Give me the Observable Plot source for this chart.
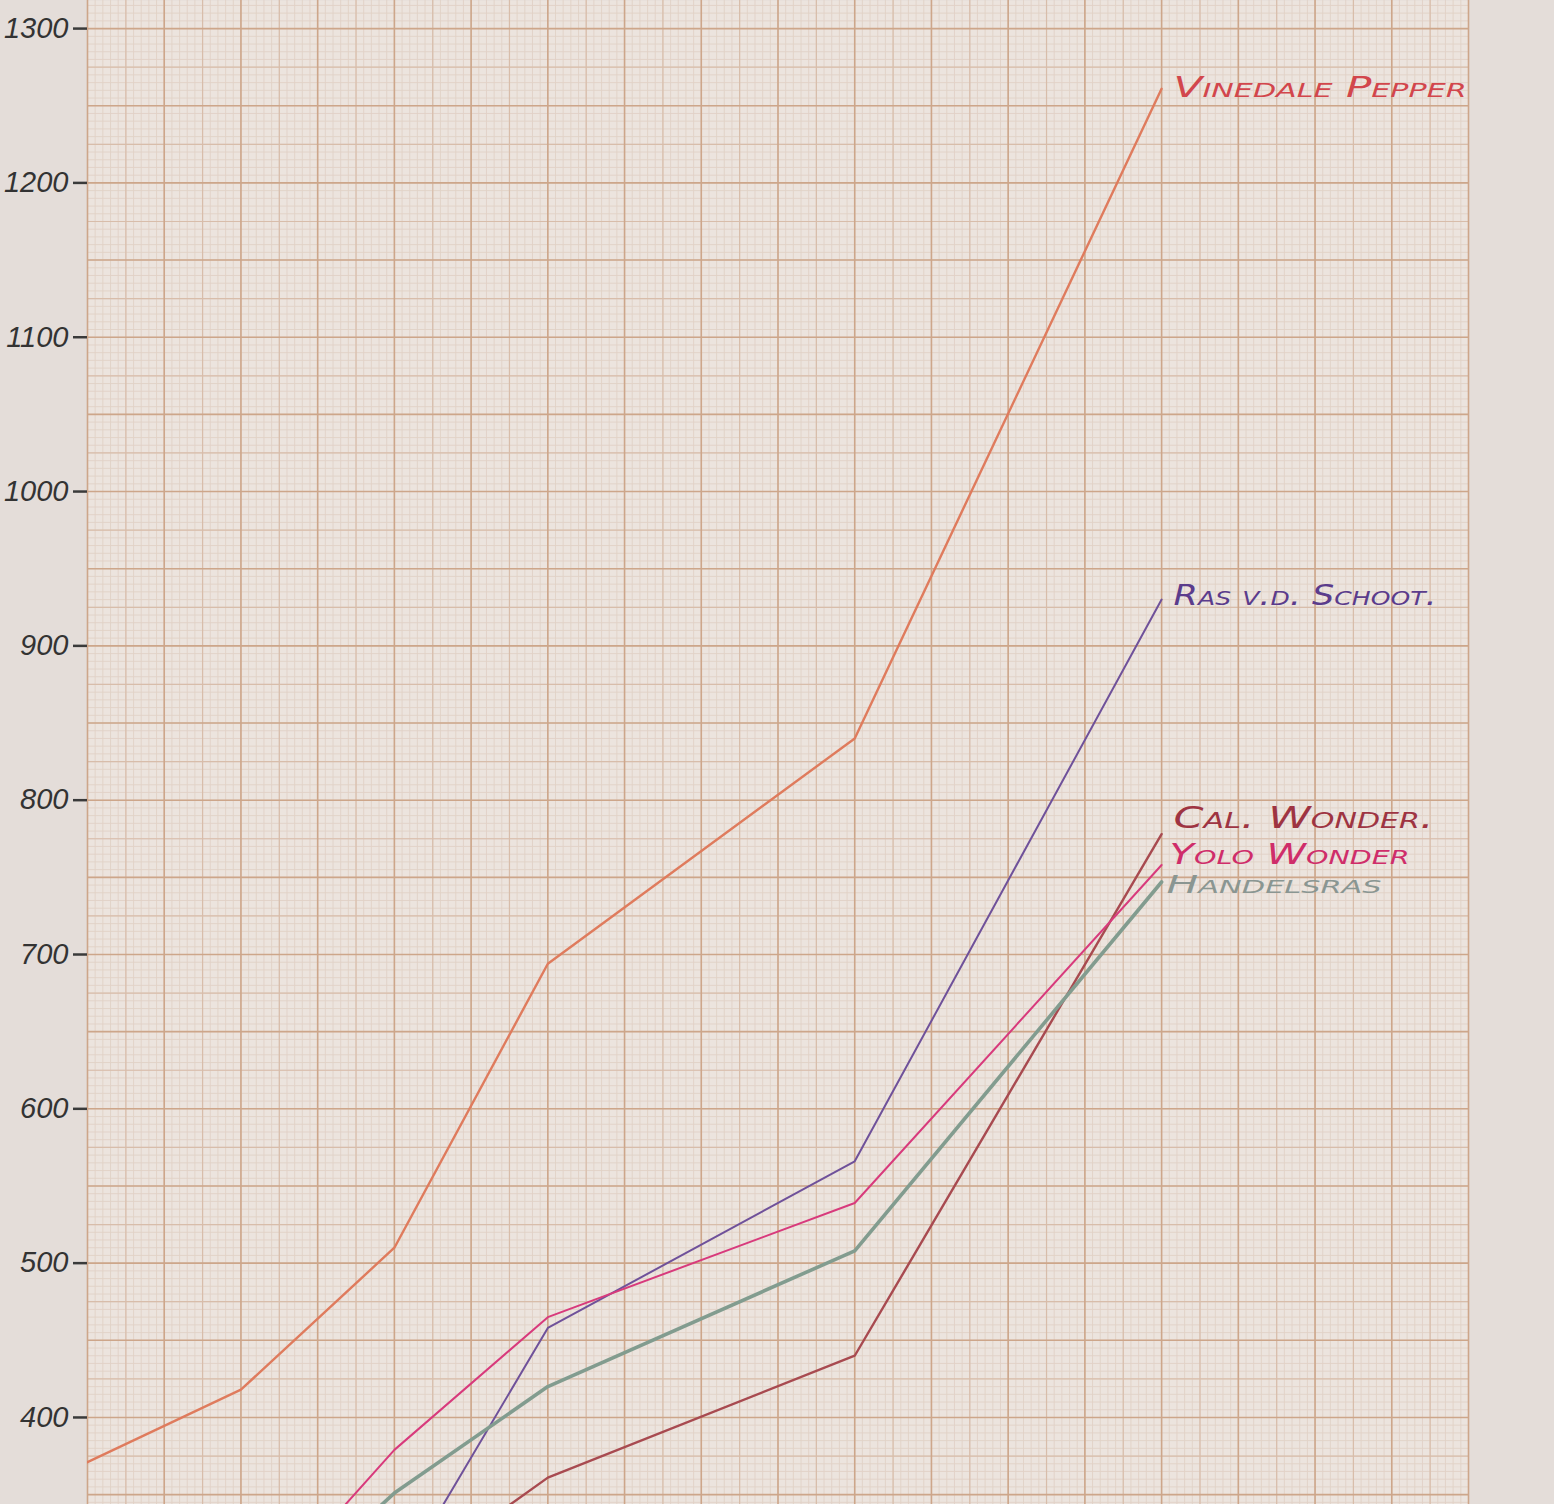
<!DOCTYPE html>
<html>
<head>
<meta charset="utf-8">
<script src="https://cdn.jsdelivr.net/npm/d3@7"></script>
<script src="https://cdn.jsdelivr.net/npm/@observablehq/plot@0.6"></script>
<style>
  html, body { margin: 0; padding: 0; background: #e4ddd9; }
  #chart { width: 1554px; height: 1504px; overflow: hidden; }
  svg { display: block; }
</style>
</head>
<body>
<div id="chart"></div>
<script>
// ---- data ----
const seriesNames = ["Vinedale Pepper", "Ras v.d. Schoot.", "Cal. Wonder.", "Yolo Wonder", "Handelsras"];

const vinedaleX = [0, 2, 4, 6, 10, 14];
const vinedaleY = [371, 418, 510, 694, 840, 1261];

const rasX = [4, 6, 10, 14];
const rasY = [290, 458, 566, 930];

const calX = [4, 6, 10, 14];
const calY = [290, 361, 440, 778];

const yoloX = [2, 4, 6, 10, 14];
const yoloY = [268, 379, 465, 539, 758];

const handelsX = [2, 4, 6, 10, 14];
const handelsY = [260, 351, 420, 508, 747];

const yTickLabels = [400, 500, 600, 700, 800, 900, 1000, 1100, 1200, 1300];

// ---- styling (not data) ----
const style = {
  "Vinedale Pepper":  {stroke: "#df7b5d", width: 2.4, text: "#d2464c", dx: 12, dy: -1, len: 293, size: 28},
  "Ras v.d. Schoot.": {stroke: "#6f519a", width: 2.0, text: "#5b3c8c", dx: 12, dy: -4, len: 263, size: 28},
  "Cal. Wonder.":     {stroke: "#a84a50", width: 2.4, text: "#9e3442", dx: 12, dy: -16, len: 260, size: 30},
  "Yolo Wonder":      {stroke: "#d83a7c", width: 2.0, text: "#cf2d6a", dx: 8, dy: -10, len: 240, size: 28},
  "Handelsras":       {stroke: "#829c8f", width: 3.6, text: "#8a9692", dx: 5, dy: 3, len: 215, size: 25}
};

const raw = [
  [seriesNames[0], vinedaleX, vinedaleY],
  [seriesNames[1], rasX, rasY],
  [seriesNames[2], calX, calY],
  [seriesNames[3], yoloX, yoloY],
  [seriesNames[4], handelsX, handelsY]
];
const rows = raw.flatMap(([name, xs, ys]) => xs.map((x, i) => ({name, x, y: ys[i]})));
const ends = raw.map(([name, xs, ys]) => ({name, x: xs[xs.length - 1], y: ys[ys.length - 1]}));

// graph-paper rulings
const yDomain = [343.6, 1318.2];
const xDomain = [0, 18];
const minorX = d3.range(0, 18.001, 0.1).map(v => +v.toFixed(2));
const mediumX = d3.range(0.5, 18, 1);
const majorX = d3.range(0, 18.001, 1);
const minorY = d3.range(345, 1318, 5);
const mediumY = d3.range(375, 1318, 50);
const majorY = d3.range(350, 1318, 50);

const marks = [
  Plot.frame({fill: "#ece4de", stroke: null}),
  Plot.ruleX(minorX, {stroke: "#e1d1c6", strokeWidth: 0.9}),
  Plot.ruleY(minorY, {stroke: "#e1d1c6", strokeWidth: 0.9}),
  Plot.ruleX(mediumX, {stroke: "#d8bdaa", strokeWidth: 1.2}),
  Plot.ruleY(mediumY, {stroke: "#d8bdaa", strokeWidth: 1.2}),
  Plot.ruleX(majorX, {stroke: "#cda68a", strokeWidth: 1.6}),
  Plot.ruleY(majorY, {stroke: "#cda68a", strokeWidth: 1.6}),
  Plot.axisY({
    ticks: yTickLabels,
    tickFormat: d => String(d),
    tickSize: 14,
    tickPadding: 5,
    strokeWidth: 2.5,
    stroke: "#3a3a3a",
    fill: "#333",
    fontSize: 29,
    fontStyle: "italic",
    label: null
  })
];

for (const name of seriesNames) {
  const s = style[name];
  marks.push(Plot.line(rows.filter(d => d.name === name), {
    x: "x", y: "y", stroke: s.stroke, strokeWidth: s.width, clip: true, strokeLinejoin: "miter"
  }));
}
for (const name of seriesNames) {
  const s = style[name];
  marks.push(Plot.text(ends.filter(d => d.name === name), {
    x: "x", y: "y", text: "name", textAnchor: "start", dx: s.dx, dy: s.dy,
    fill: s.text, fontSize: s.size, fontStyle: "italic", fontVariant: "small-caps",
    fontFamily: "DejaVu Sans", fontWeight: "normal"
  }));
}

const chart = Plot.plot({
  width: 1554,
  height: 1504,
  marginLeft: 87,
  marginRight: 86,
  marginTop: 0,
  marginBottom: 0,
  style: {background: "transparent", fontFamily: "Liberation Sans"},
  x: {domain: xDomain, axis: null},
  y: {domain: yDomain},
  marks
});

document.getElementById("chart").appendChild(chart);

// stretch the hand-lettered labels to their drawn widths
d3.select(chart).selectAll('g[aria-label="text"] text').each(function() {
  const t = d3.select(this).text();
  const s = style[t];
  if (s) d3.select(this).attr("textLength", s.len).attr("lengthAdjust", "spacingAndGlyphs");
});
</script>
</body>
</html>
